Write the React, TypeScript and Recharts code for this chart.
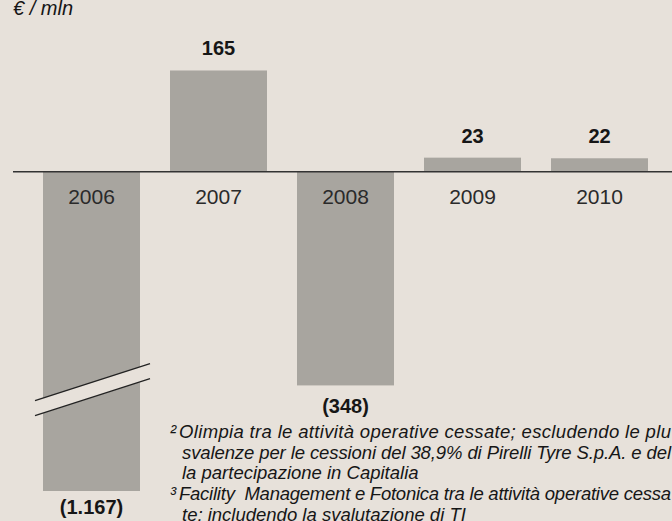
import { BarChart, Bar, XAxis, YAxis, ReferenceLine, LabelList } from "recharts";

// Risultato attività operative cessate, € / mln
const years = ["2006", "2007", "2008", "2009", "2010"];
const results = [-1167, 165, -348, 23, 22];
// axis is broken: 2006 runs past the bottom of the domain
const yDomain = [-520, 200];

const noteMarks = ["²", "", "", "³", ""];
const noteLines = [
  "Olimpia tra le attività operative cessate; escludendo le plu",
  "svalenze per le cessioni del 38,9% di Pirelli Tyre S.p.A. e del",
  "la partecipazione in Capitalia",
  "Facility  Management e Fotonica tra le attività operative cessa",
  "te; includendo la svalutazione di TI",
];
const noteJustified = [true, true, false, true, false];

const data = years.map((year, i) => ({ year, value: results[i] }));

const W = 672;
const H = 521;
const BG = "#e7e1da";
const BAR = "#a8a59f";
const INK = "#161616";
const FONT = "'Liberation Sans', Arial, Helvetica, sans-serif";

const fmt = (v: number) => {
  const s = Math.abs(v).toString().replace(/\B(?=(\d{3})+(?!\d))/g, ".");
  return v < 0 ? `(${s})` : s;
};

function BarShape(props: any) {
  const { x, y, width, height, payload, background } = props;
  const plotBottom = background ? background.y + background.height : Infinity;
  const top = Math.min(y, y + height);
  const bottom = Math.min(Math.max(y, y + height), plotBottom);
  const rect = <rect x={x} y={top} width={width} height={bottom - top} fill={BAR} />;
  if (payload.value >= yDomain[0]) return rect;

  // break marks on the clipped bar
  const cx = x + width / 2;
  const cy = bottom - 101;
  const slope = -0.322;
  const gap = 7.5;
  const x1 = x - 8;
  const x2 = x + width + 10;
  const ly = (px: number, off: number) => cy + off + (px - cx) * slope;
  return (
    <g>
      {rect}
      <polygon
        points={`${x1},${ly(x1, -gap)} ${x2},${ly(x2, -gap)} ${x2},${ly(x2, gap)} ${x1},${ly(x1, gap)}`}
        fill={BG}
      />
      <line x1={x1} y1={ly(x1, -gap)} x2={x2} y2={ly(x2, -gap)} stroke="#222" strokeWidth={1.2} />
      <line x1={x1} y1={ly(x1, gap)} x2={x2} y2={ly(x2, gap)} stroke="#222" strokeWidth={1.2} />
    </g>
  );
}

function BarLabels(props: any) {
  const vb = props.viewBox ?? props;
  const { x, y, width, height } = vb;
  const value = Number(props.value);
  const index = props.index;
  const cx = x + width / 2;
  const top = Math.min(y, y + height);
  const bottom = Math.max(y, y + height);
  const zeroY = value >= 0 ? bottom : top;
  const valueY = value >= 0 ? top - 15 : Math.min(bottom + 28, H - 7);
  return (
    <g>
      <text x={cx} y={valueY} textAnchor="middle" fontFamily={FONT} fontSize={20} fontWeight="bold" fill={INK}>
        {fmt(value)}
      </text>
      <text x={cx} y={zeroY + 32} textAnchor="middle" fontFamily={FONT} fontSize={21} fill="#2a2a2a">
        {years[index]}
      </text>
    </g>
  );
}

export default function App() {
  return (
    <div style={{ position: "absolute", left: 0, top: 0, width: W, height: H, background: BG, overflow: "hidden" }}>
      <BarChart width={W} height={H} data={data} margin={{ top: 49, right: 9, bottom: 30, left: 28 }} barCategoryGap={15}>
        <XAxis dataKey="year" hide />
        <YAxis type="number" domain={yDomain} allowDataOverflow hide />
        <Bar dataKey="value" fill={BAR} shape={BarShape} isAnimationActive={false}>
          <LabelList dataKey="value" content={BarLabels} />
        </Bar>
        <ReferenceLine
          y={0}
          ifOverflow="visible"
          shape={(p: any) => <line x1={13} x2={W} y1={p.y1} y2={p.y1} stroke="#333" strokeWidth={1.4} />}
        />
      </BarChart>
      <svg width={W} height={H} style={{ position: "absolute", left: 0, top: 0, pointerEvents: "none" }}>
        <text x={13} y={15} fontFamily={FONT} fontSize={20} fontStyle="italic" fill={INK}>
          € / mln
        </text>
        {noteLines.map((line, i) => {
          const baseY = 438 + i * 20.7;
          const startX = noteMarks[i] ? 179 : 182;
          return (
            <g key={i}>
              {noteMarks[i] && (
                <text x={170} y={baseY} fontFamily={FONT} fontSize={18.5} fontStyle="italic" fill={INK}>
                  {noteMarks[i]}
                </text>
              )}
              <text
                x={startX}
                y={baseY}
                fontFamily={FONT}
                fontSize={18.5}
                fontStyle="italic"
                fill={INK}
                style={{ whiteSpace: "pre" }}
                {...(noteJustified[i] ? { textLength: 671 - startX, lengthAdjust: "spacing" } : {})}
              >
                {line}
              </text>
            </g>
          );
        })}
      </svg>
    </div>
  );
}
